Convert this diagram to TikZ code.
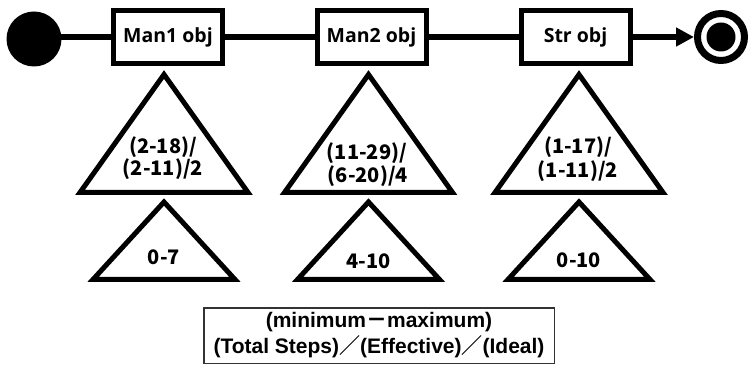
\documentclass[tikz,border=0pt]{standalone}
\usepackage{fontspec}
\setmainfont{Liberation Sans}
\newfontfamily\jpfont{Noto Sans CJK JP}
\newfontfamily\labelfont{Open Sans}
\usetikzlibrary{arrows.meta}

\begin{document}
\begin{tikzpicture}[x=1pt,y=-1pt,
  flow/.style={line width=5.5pt},
  objbox/.style={draw, line width=5pt, minimum width=109pt, minimum height=53pt,
    inner sep=0pt, font=\labelfont\bfseries\fontsize{19.5}{24}\selectfont},
  initial/.style={circle, fill, minimum size=55pt, inner sep=0pt},
  final/.style={circle, draw, line width=7pt, minimum size=47pt, inner sep=0pt},
  finaldot/.style={circle, fill, minimum size=29pt, inner sep=0pt},
  tri/.style={draw, line width=5pt, line join=miter, miter limit=10},
  tritext/.style={font=\jpfont\bfseries\fontsize{20}{22}\selectfont, align=center, inner sep=0pt},
  legend/.style={draw=black!80, line width=1.5pt, minimum width=350.5pt,
    minimum height=55.5pt, inner sep=0pt, align=center,
    font=\bfseries\fontsize{21}{26}\selectfont}
]
\useasboundingbox[fill=white] (0,0) rectangle (750,366);

% states and objects along the flow
\node[initial] (start) at (34,39) {};
\node[objbox] (m1) at (168,37) {Man1 obj};
\node[objbox] (m2) at (371.5,37) {Man2 obj};
\node[objbox] (st) at (575.5,37) {Str obj};
\node[final] (end) at (721,37) {};
\node[finaldot] (enddot) at (end.center) {};

\draw[flow] (start.center |- m1.west) -- (m1.west);
\draw[flow] (m1) -- (m2);
\draw[flow] (m2) -- (st);
\draw[flow, -{Triangle[length=18pt,width=18pt]}] (st) -- (end);

% step-count triangles below each object
\foreach \cx in {164, 368.5, 579}{
  \draw[tri] (\cx,74.5) -- (\cx+84,192.5) -- (\cx-84,192.5) -- cycle;
  \draw[tri] (\cx,202) -- (\cx+71,279.5) -- (\cx-71,279.5) -- cycle;
}

\node[tritext] (ta1) at (163,147) {(2-18)/};
\node[tritext] (ta2) at (163,169) {(2-11)/2};
\node[tritext] (tb1) at (367,153) {(11-29)/};
\node[tritext] (tb2) at (368,176) {(6-20)/4};
\node[tritext] (tc1) at (578,147) {(1-17)/};
\node[tritext] (tc2) at (578,171) {(1-11)/2};

\node[tritext] (sa) at (164,257) {0-7};
\node[tritext] (sb) at (368.5,261) {4-10};
\node[tritext] (sc) at (579,260) {0-10};

% key
\node[legend] (key) at (379,335.5)
  {(minimum{\jpfont\bfseries －}maximum)\\(Total Steps){\jpfont\bfseries ／}(Effective){\jpfont\bfseries ／}(Ideal)};
\end{tikzpicture}
\end{document}
